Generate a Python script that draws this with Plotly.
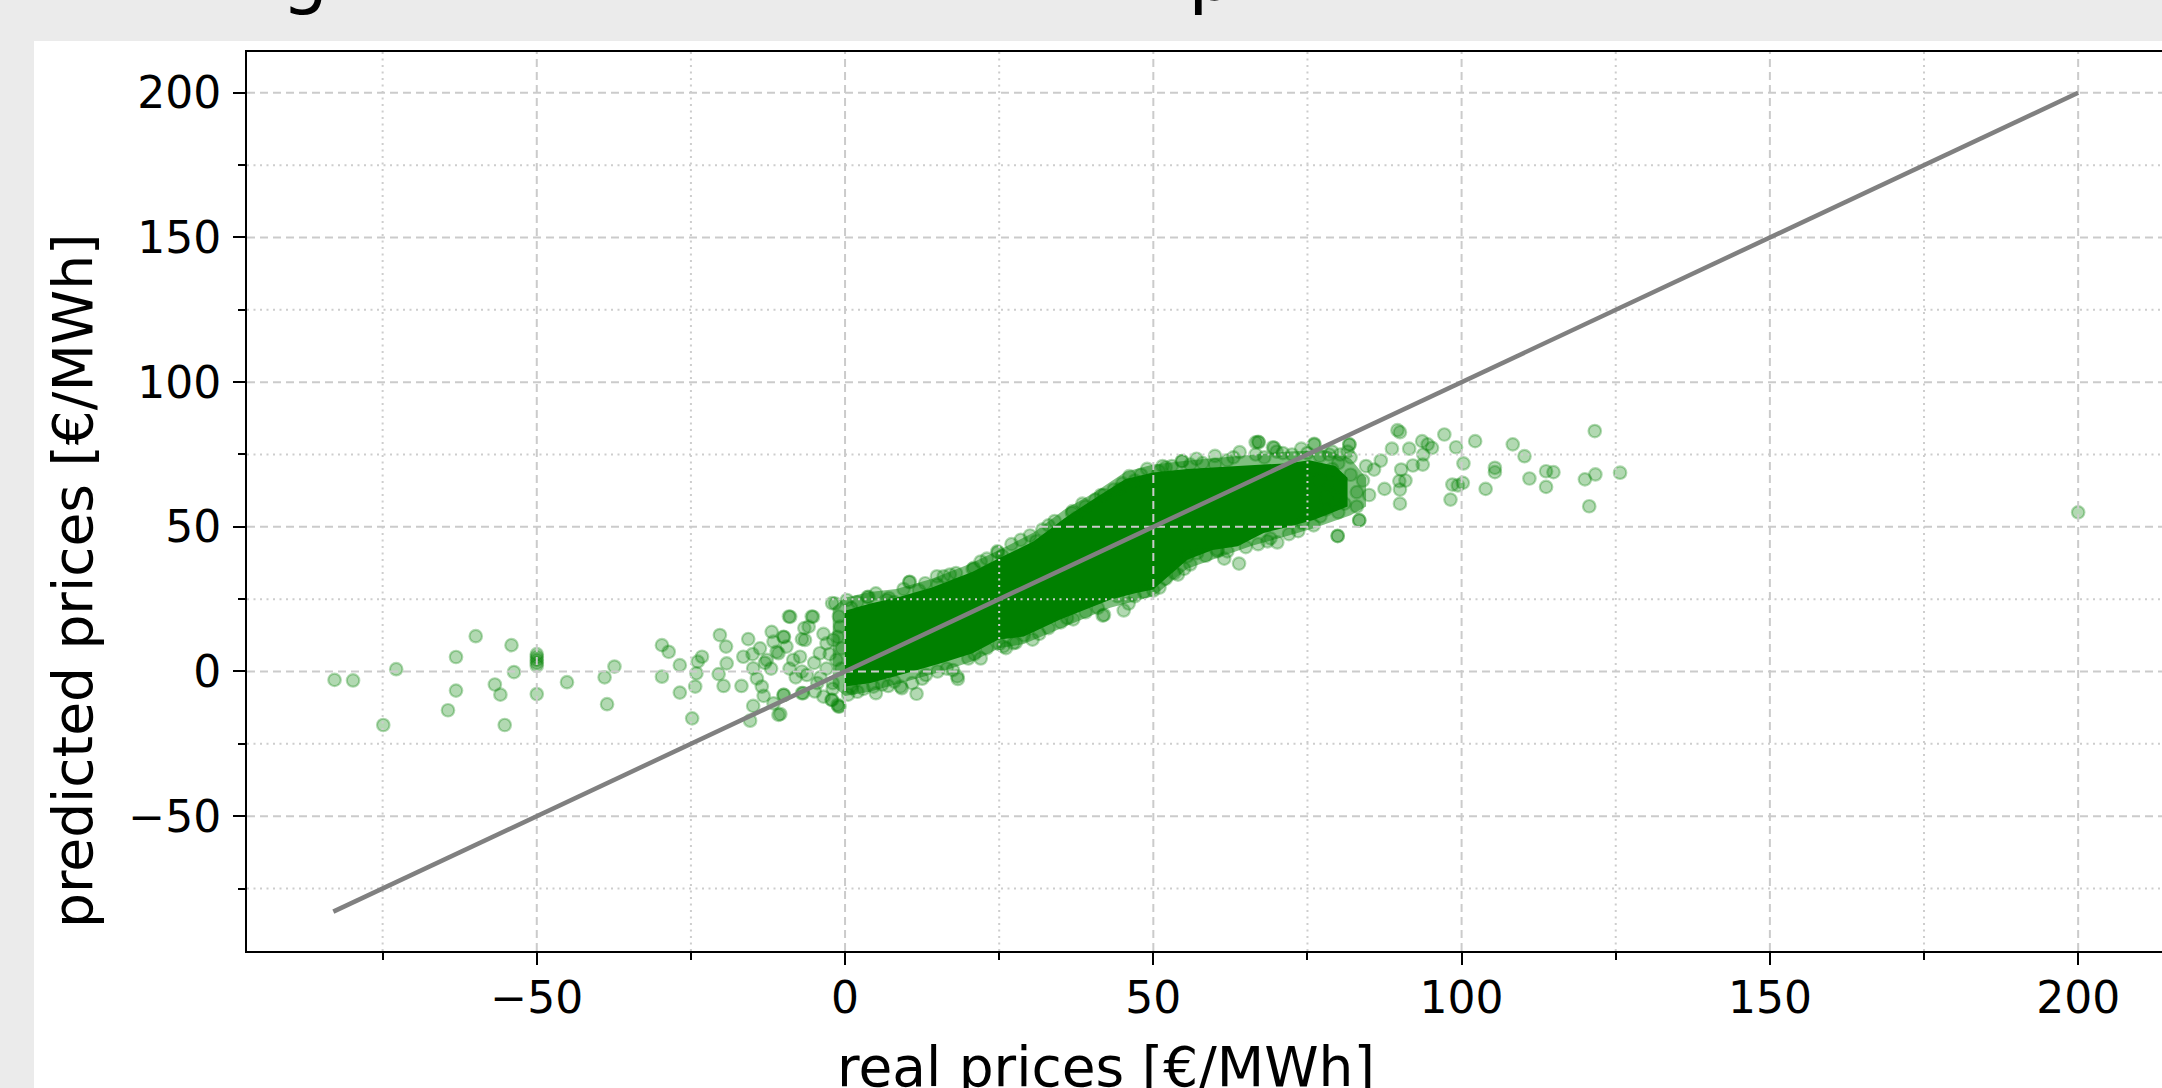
import plotly.graph_objects as go

# ---------------- data ----------------
# saturated core of the cloud: upper / lower envelope (real price, predicted price)
core_upper_real = [0, 4.1, 8.3, 14.1, 20.7, 24.8, 30.6, 35.6, 40.6, 45.5, 50, 55.5, 63.7, 72, 75.3, 79.5, 81.5]
core_upper_pred = [21, 23.5, 25.5, 29, 34.5, 39, 45, 53, 60, 66.5, 68.8, 70, 71, 72, 73, 71, 67]
core_lower_real = [81.5, 76.2, 72, 67.9, 63.7, 59.6, 55.5, 50, 47.2, 43, 38.9, 34.8, 29, 24.8, 20.7, 15.7, 9.9, 4.1, 0]
core_lower_pred = [57, 52.5, 50, 47.9, 43.3, 42, 38.6, 28.3, 27.1, 24.8, 21.3, 17.9, 12.1, 11, 6.3, 2.9, -0.6, -4, -5.2]

# half-saturated fringe around the core (many overlapping translucent points)
fringe_upper_real = [-2, 0, 4, 8.3, 14, 20, 25, 30.6, 35.6, 40.6, 45.5, 50, 56, 64, 72, 78, 82, 84.5]
fringe_upper_pred = [22, 25.5, 27.5, 28.5, 32, 37, 42, 48, 56, 62, 69, 71.5, 73, 74.5, 76, 76.5, 73.5, 67]
fringe_lower_real = [84.5, 82, 76, 72, 66, 60, 55.5, 50, 43, 39, 35, 29, 25, 20.7, 15.7, 10, 4, 0, -2]
fringe_lower_pred = [57, 54, 49.5, 47, 43.5, 39, 35.5, 26, 22, 18.5, 15, 9.5, 8, 3.5, 0, -3.5, -7, -8.5, -5]

# individual points: far left outliers
left_real = [-82.8, -79.8, -74.9, -72.8, -64.4, -63.1, -63.1, -59.9, -56.8, -55.9, -55.2, -54.1, -53.7,
             -50, -50, -50, -50, -50, -50, -45.1, -39.0, -38.6, -37.4]
left_pred = [-2.9, -3.1, -18.5, 0.8, -13.4, 5.0, -6.6, 12.2, -4.5, -8.0, -18.5, 9.1, -0.2,
             2, 3, 4, 5, 6, -7.8, -3.7, -2.0, -11.3, 1.7]

# points between -30 and 0
mid_real = [-29.7, -28.6, -29.7, -26.8, -26.8, -24.8, -24.3, -24.1, -23.2, -23.9, -20.3, -19.3, -19.2,
            -20.5, -19.7, -16.8, -16.5, -15.7, -14.9, -14.9, -15.4, -14.3, -13.5, -13.2, -13.8, -11.9,
            -11.6, -12.7, -11.1, -10.0, -9.5, -8.9, -11.6, -10.5, -10.0, -8.4, -7.3, -6.5, -5.9, -5.2,
            -6.8, -6.2, -4.9, -4.1, -3.5, -3.0, -2.2, -1.6, -1.1, -1.4, -1.9, -0.8,
            -15, -13, -12, -9, -8, -7, -5, -4, -3, -2, -2.5, -3.5, -4.5, -1, -0.5, -2, -1.2, -0.6,
            -9.1, -5.4, -6.6, -9.9, -7.0, -10.8, -10.8, -9.9, -7.0, -1.2, -2.1]
mid_pred = [9.1, 6.8, -1.8, 2.2, -7.3, -16.2, -5.2, -0.6, 5.1, 3.4, 12.6, 8.6, 2.8,
            -0.9, -5.0, -5.0, 5.1, 11.2, 1.1, -11.9, -17.0, -2.4, -5.2, -8.4, 8.0, 13.7,
            10.3, 4.0, 6.8, 12.0, 8.6, 18.9, -11.0, -14.7, -8.1, 4.0, 5.1, 10.9, 15.5, 18.9,
            -7.5, -1.2, -6.9, 6.3, -8.7, 9.7, -9.8, 23.5, -12.1, 4.0, 10.9, 15.5,
            6, 3, 1, 1, -2, 0, 3, -2, 1, -4, 6, 13, -4, 19, 8, -6, 12, 1,
            19, 19, 15, 11.9, 11.2, 6.3, -15, -8.1, -7.5, -11.5, -9.8]

# fuzzy points along the upper edge of the core
upper_real = [0.3, 3.8, 6.8, 10.5, 3.6, 7.1, 10.4, 14.9, 16.0, 20.9, 24.7, 32.0, 36.9, 40.6, 43.6, 46.1,
              50.9, 54.7, 67.1, 69.6, 66.6, 76.1, 2, 12, 18, 22, 27, 30, 34, 39, 42, 45, 48, 52, 58,
              62, 71, 74, 79, 60, 64, 1, 8, 15, 25.5, 31, 37.5, 44.5, 47, 53, 56, 68, 72.5, 77,
              20.7, 24.8, 36.8, 54.6, 60, 81.8, 80.3, 66.6, -2.1, 5, 9.5, 13, 17, 23, 28.5, 33, 38.5,
              41.5, 49, 51.5, 57, 63, 70, 75, 78.5]
upper_pred = [24.7, 25.8, 24.7, 31.0, 25.7, 25.4, 30.9, 32.9, 32.9, 35.8, 41.5, 49.0, 55.4, 59.4, 62.9, 67.5,
              69.2, 72.7, 79.2, 77.3, 75.0, 78.4, 24, 28, 34, 38, 44, 47, 52, 57, 61, 65, 68, 70.5, 72,
              73, 75.5, 77, 76, 74.5, 75.8, 22, 24, 30, 40, 45, 53, 63, 66, 71, 71.5, 74, 75, 74.5,
              35.4, 41.2, 54.8, 72.7, 71.5, 78.4, 75, 79.2, 23.6, 27, 28.5, 30.5, 33.5, 39, 45.5, 50.5, 58,
              61, 70, 71, 73.5, 74, 76, 75.5, 75]

# fuzzy points along the lower edge of the core
lower_real = [0.9, -0.9, 9.0, 11.6, 10.9, 13.1, 18.2, 18.3, 26.1, 27.7, 30.4, 42.0, 45.2, 44.2, 53.4,
              57.1, 60.4, 63.9, 70.1, 74.2, 77.1, 3, 6, 15, 20, 23, 33, 36, 39, 47, 50, 52, 56, 62, 67,
              72, 76, 80, 1.1, 4.6, 9.2, 0.5, 2, 5, 8, 16.5, 21, 25, 29, 35, 41, 48.5, 55, 58.5, 65, 69,
              25.7, 27.3, 41.8, 55.5, 60.4, 79.9, 83.4, 7, 12.5, 17.5, 22, 31.5, 37, 46, 51, 54, 61.5, 68.5, 73.5]
lower_pred = [-5.2, -12.1, -5.2, -7.7, -4, -1.2, -1.7, -2.6, 8.1, 10.0, 11.0, 19.6, 21.1, 26, 34.0,
              40.9, 42.1, 37.3, 44.6, 51.3, 53.6, -6, -4.5, 0, 4.5, 8, 15, 18.5, 20.5, 26, 28, 32, 37, 41.5, 44,
              47.5, 50.5, 55, -5.8, -5.2, -5.8, -8, -7, -7.5, -3.5, 1, 6, 9.5, 12.5, 17, 22, 27.5, 35.5, 40, 43, 46,
              8.7, 9.8, 19.3, 39.8, 41.5, 46.9, 52.2, -5, -2.5, 0.5, 4.5, 13, 18, 23.5, 29, 33.5, 39, 45, 48.5]

# right-hand tail of the cloud
right_real = [67.0, 69.4, 76.1, 81.8, 79.9, 83.4, 85.0, 85.8, 86.9, 87.5, 88.7, 90.0, 89.6, 90.2, 89.9,
              90.0, 90.0, 90.9, 91.5, 92.1, 93.6, 93.7, 93.8, 94.5, 95.2, 97.2, 98.2, 98.5, 99.1, 99.4,
              100.2, 100.3, 102.2, 103.9, 105.4, 105.4, 108.3, 110.2, 111.0, 113.7, 113.7, 114.9, 120.0,
              120.7, 121.6, 121.7, 125.7, 200.0,
              78, 80, 82, 79, 81, 83, 77, 84, 80, 76, 82, 78, 84.5, 83, 81.5]
right_pred = [79.4, 77.5, 78.7, 78.5, 46.8, 52.3, 61.0, 69.8, 72.9, 63.1, 77.0, 82.7, 83.4, 69.8, 65.8,
              62.9, 58.0, 66.0, 77.0, 71.2, 79.6, 71.5, 75.0, 78.5, 77.3, 81.9, 59.4, 64.6, 77.5, 64.3,
              65.2, 71.9, 79.6, 63.1, 70.4, 68.9, 78.5, 74.4, 66.7, 69.2, 63.8, 68.9, 66.4,
              57.1, 83.1, 68.1, 68.7, 55.0,
              60, 64, 68, 70, 58, 62, 66, 66, 72, 70, 74, 56, 71, 57, 76]

# perfect-prediction reference line
ideal_line = [-83, 200]

x_major_ticks = [-50, 0, 50, 100, 150, 200]
y_major_ticks = [-50, 0, 50, 100, 150, 200]
x_minor_ticks = [-75, -25, 25, 75, 125, 175]
y_minor_ticks = [-75, -25, 25, 75, 125, 175]
x_range = [-97.0, 213.6]
y_range = [-96.6, 214.1]

title_text = "Regression model: real vs. predicted"
x_label = "real prices [€/MWh]"
y_label = "predicted prices [€/MWh]"

# ---------------- figure ----------------
W, H = 2162, 1088
ML, MR, MT, MB = 247, 0, 52, 137
PW, PH = W - ML - MR, H - MT - MB
FONT = "DejaVu Sans"
GREEN = "#008000"
GREEN_FACE = "rgba(0,128,0,0.3)"
GREEN_EDGE = "rgba(0,128,0,0.3)"


def px_x(p):
    return (p - ML) / PW


def px_y(p):
    return (H - MB - p) / PH


def tick_label(v):
    return ("\u2212" + str(abs(v))) if v < 0 else str(v)


def grid_xy(xt, yt):
    gx, gy = [], []
    for v in xt:
        gx += [v, v, None]
        gy += [y_range[0], y_range[1], None]
    for v in yt:
        gx += [x_range[0], x_range[1], None]
        gy += [v, v, None]
    return gx, gy


fig = go.Figure()

# half-saturated fringe
fig.add_trace(go.Scatter(
    x=fringe_upper_real + fringe_lower_real,
    y=fringe_upper_pred + fringe_lower_pred,
    mode="lines", fill="toself", fillcolor="rgba(0,128,0,0.5)",
    line=dict(width=0, color=GREEN), hoverinfo="skip", showlegend=False))

# saturated core
fig.add_trace(go.Scatter(
    x=core_upper_real + core_lower_real,
    y=core_upper_pred + core_lower_pred,
    mode="lines", fill="toself", fillcolor=GREEN,
    line=dict(width=0, color=GREEN), hoverinfo="skip", showlegend=False))

# individual points
all_real = left_real + mid_real + upper_real + lower_real + right_real
all_pred = left_pred + mid_pred + upper_pred + lower_pred + right_pred
fig.add_trace(go.Scatter(
    x=all_real, y=all_pred, mode="markers",
    marker=dict(size=12.5, color=GREEN_FACE, line=dict(width=2.2, color=GREEN_EDGE)),
    showlegend=False))

# grid (drawn above the scatter, below the line, like matplotlib)
gx, gy = grid_xy(x_minor_ticks, y_minor_ticks)
fig.add_trace(go.Scatter(x=gx, y=gy, mode="lines", hoverinfo="skip", showlegend=False,
                         line=dict(color="#cdcdcd", width=2, dash="2px,4.5px")))
gx, gy = grid_xy(x_major_ticks, y_major_ticks)
fig.add_trace(go.Scatter(x=gx, y=gy, mode="lines", hoverinfo="skip", showlegend=False,
                         line=dict(color="#cbcbcb", width=2, dash="8px,5px")))

# identity line
fig.add_trace(go.Scatter(x=ideal_line, y=ideal_line, mode="lines", showlegend=False,
                         line=dict(color="#808080", width=4.5)))

axis_common = dict(
    showgrid=False, zeroline=False, showline=True, linecolor="black", linewidth=2,
    ticks="outside", ticklen=12, tickwidth=2, tickcolor="black",
    tickfont=dict(family=FONT, size=44, color="black"),
)
fig.update_xaxes(range=x_range, tickvals=x_major_ticks,
                 ticktext=[tick_label(v) for v in x_major_ticks], mirror=True,
                 ticklabelstandoff=-5,
                 minor=dict(tickvals=x_minor_ticks, ticks="outside", ticklen=7, tickwidth=1.5,
                            tickcolor="black", showgrid=False),
                 **axis_common)
fig.update_yaxes(range=y_range, tickvals=y_major_ticks,
                 ticktext=[tick_label(v) for v in y_major_ticks], mirror=False,
                 ticklabelstandoff=3,
                 minor=dict(tickvals=y_minor_ticks, ticks="outside", ticklen=7, tickwidth=1.5,
                            tickcolor="black", showgrid=False),
                 **axis_common)

fig.update_layout(
    width=W, height=H, autosize=False,
    margin=dict(l=ML, r=MR, t=MT, b=MB, pad=0),
    paper_bgcolor="#ebebeb", plot_bgcolor="white",
    font=dict(family=FONT, color="black"),
    shapes=[dict(type="rect", xref="paper", yref="paper", layer="below",
                 x0=px_x(34), x1=1.05, y0=-0.3, y1=px_y(41),
                 fillcolor="white", line=dict(width=0))],
    annotations=[
        dict(text=title_text, xref="paper", yref="paper", x=px_x(186), y=px_y(18),
             xanchor="left", yanchor="bottom", showarrow=False,
             font=dict(family=FONT, size=74, color="black")),
        dict(text=x_label, xref="paper", yref="paper", x=px_x(1106), y=px_y(1033),
             xanchor="center", yanchor="top", showarrow=False,
             font=dict(family=FONT, size=55, color="black")),
        dict(text=y_label, xref="paper", yref="paper", x=px_x(73), y=px_y(581),
             xanchor="center", yanchor="middle", showarrow=False, textangle=-90,
             font=dict(family=FONT, size=55, color="black")),
    ],
)

fig.write_html("out.html", config={"displayModeBar": False},
               post_script="document.body.style.margin='0';document.body.style.overflow='hidden';")
